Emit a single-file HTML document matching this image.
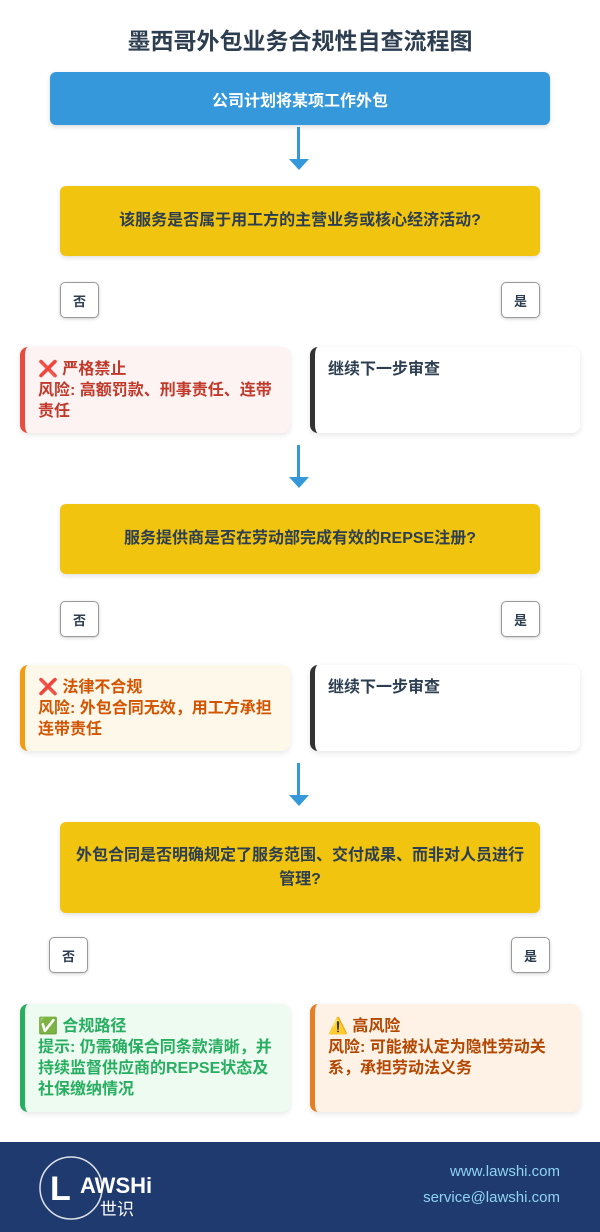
<!DOCTYPE html>
<html><head><meta charset="utf-8"><style>
*{box-sizing:border-box;margin:0;padding:0}
body{width:600px;height:1232px;background:#fff;font-family:"Liberation Sans","Noto Sans CJK SC",sans-serif;position:relative;overflow:hidden;color:#2c3e50}
.a{position:absolute}
.title{top:22px;left:0;width:600px;text-align:center;font-size:23px;font-weight:bold;color:#2c3e50}
.start{left:50px;top:72px;width:500px;height:53px;background:#3498db;border-radius:6px;color:#fff;font-weight:bold;font-size:16px;display:flex;align-items:center;justify-content:center;box-shadow:0 2px 5px rgba(0,0,0,.15)}
.dec{left:60px;width:480px;background:#f1c40f;border-radius:6px;font-weight:bold;font-size:16px;display:flex;align-items:center;justify-content:center;text-align:center;padding:0 14px;line-height:24px;color:#2c3e50;box-shadow:0 2px 5px rgba(0,0,0,.12)}
.btn{width:39px;height:36px;border:1px solid #999;border-radius:5px;background:#fff;font-size:13px;font-weight:bold;display:flex;align-items:center;justify-content:center;box-shadow:0 1px 3px rgba(0,0,0,.2)}
.box{width:270px;border-radius:8px;border-left:5px solid;padding:12px 14px 12px 13px;font-size:16px;font-weight:bold;line-height:21px;box-shadow:0 2px 6px rgba(0,0,0,.1)}
.arr{left:297px;width:3px;background:#3498db}
.head{left:289px;width:0;height:0;border-left:10px solid transparent;border-right:10px solid transparent;border-top:11px solid #3498db}
.foot{left:0;top:1142px;width:600px;height:90px;background:#1f3a6e}
</style></head><body>
<div class="a title">墨西哥外包业务合规性自查流程图</div>
<div class="a start">公司计划将某项工作外包</div>
<div class="a arr" style="top:127px;height:34px"></div><div class="a head" style="top:159px"></div>
<div class="a dec" style="top:186px;height:70px">该服务是否属于用工方的主营业务或核心经济活动?</div>
<div class="a btn" style="left:60px;top:282px">否</div>
<div class="a btn" style="left:501px;top:282px">是</div>
<div class="a box" style="left:20px;top:347px;height:86px;background:#fdf3f2;border-color:#e74c3c;color:#c0392b">❌ 严格禁止<br>风险: 高额罚款、刑事责任、连带责任</div>
<div class="a box" style="left:310px;top:347px;height:86px;background:#fff;border-color:#333;color:#2c3e50">继续下一步审查</div>
<div class="a arr" style="top:445px;height:34px"></div><div class="a head" style="top:477px"></div>
<div class="a dec" style="top:504px;height:70px">服务提供商是否在劳动部完成有效的REPSE注册?</div>
<div class="a btn" style="left:60px;top:601px">否</div>
<div class="a btn" style="left:501px;top:601px">是</div>
<div class="a box" style="left:20px;top:665px;height:86px;background:#fef8ea;border-color:#f39c12;color:#d35400">❌ 法律不合规<br>风险: 外包合同无效，用工方承担连带责任</div>
<div class="a box" style="left:310px;top:665px;height:86px;background:#fff;border-color:#333;color:#2c3e50">继续下一步审查</div>
<div class="a arr" style="top:763px;height:34px"></div><div class="a head" style="top:795px"></div>
<div class="a dec" style="top:822px;height:91px">外包合同是否明确规定了服务范围、交付成果、而非对人员进行管理?</div>
<div class="a btn" style="left:49px;top:937px">否</div>
<div class="a btn" style="left:511px;top:937px">是</div>
<div class="a box" style="left:20px;top:1004px;height:108px;background:#edfbf1;border-color:#27ae60;color:#27ae60">✅ 合规路径<br>提示: 仍需确保合同条款清晰，并持续监督供应商的REPSE状态及社保缴纳情况</div>
<div class="a box" style="left:310px;top:1004px;height:108px;background:#fef2e6;border-color:#e67e22;color:#b34700">⚠️ 高风险<br>风险: 可能被认定为隐性劳动关系，承担劳动法义务</div>
<div class="a foot"></div>
<svg class="a" style="left:38px;top:1155px" width="120" height="66"><circle cx="33" cy="33" r="31" fill="none" stroke="#fff" stroke-width="1.5" opacity=".85"/><text x="12" y="45" fill="#fff" font-size="34" font-weight="bold" font-family="Liberation Sans">L</text><text x="42" y="38" fill="#fff" font-size="22" font-weight="bold" font-family="Liberation Sans">AWSHi</text><text x="62" y="60" fill="#fff" font-size="17" font-family="Noto Sans CJK SC">世识</text></svg>
<div class="a" style="right:40px;top:1159px;color:#8fd3f4;font-size:15px;text-align:right;line-height:26px">www.lawshi.com<br>service@lawshi.com</div>
</body></html>
